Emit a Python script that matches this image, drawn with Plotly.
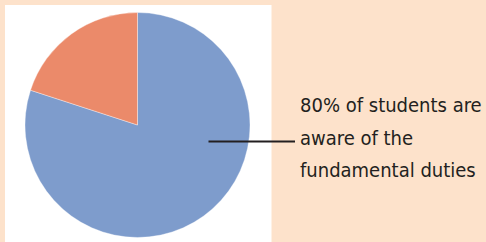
import plotly.graph_objects as go

W, H = 486, 242

labels = ["Aware of fundamental duties", "Not aware"]
values = [80, 20]
colors = ["#7E9CCC", "#EB8A6A"]
note_lines = ["80% of students are", "aware of the", "fundamental duties"]

def px(x):
    return x / W

def py(y):
    return 1 - y / H

fig = go.Figure()
fig.add_trace(go.Pie(
    labels=labels,
    values=values,
    sort=False,
    direction="clockwise",
    rotation=0,
    marker=dict(colors=colors, line=dict(color="rgba(255,255,255,0.6)", width=0.6)),
    textinfo="none",
    hoverinfo="label+percent",
    showlegend=False,
    domain=dict(x=[px(25), px(250)], y=[py(237.5), py(12.5)]),
))

shapes = [
    dict(type="rect", xref="paper", yref="paper",
         x0=px(5), x1=px(271.5), y0=0, y1=py(5),
         fillcolor="white", line=dict(width=0), layer="below"),
    dict(type="line", xref="paper", yref="paper",
         x0=px(208.5), x1=px(295), y0=py(141.5), y1=py(141.5),
         line=dict(color="#231F20", width=2), layer="above"),
]

annotations = []
for i, (t, yc) in enumerate(zip(note_lines, [105, 137.5, 170])):
    annotations.append(dict(
        text=t, xref="paper", yref="paper", x=px(298), y=py(yc),
        xanchor="left", yanchor="middle", showarrow=False,
        font=dict(family="Liberation Sans Narrow, DejaVu Sans Condensed, Arial Narrow, sans-serif",
                  size=20, color="#231F20"),
    ))

fig.update_layout(
    width=W, height=H,
    margin=dict(l=0, r=0, t=0, b=0),
    paper_bgcolor="#FDE2CB",
    plot_bgcolor="#FDE2CB",
    shapes=shapes,
    annotations=annotations,
)

fig.write_html(
    "out.html",
    config={"displayModeBar": False},
    post_script="document.body.style.margin='0';document.body.style.overflow='hidden';document.body.style.background='#FDE2CB';",
)
